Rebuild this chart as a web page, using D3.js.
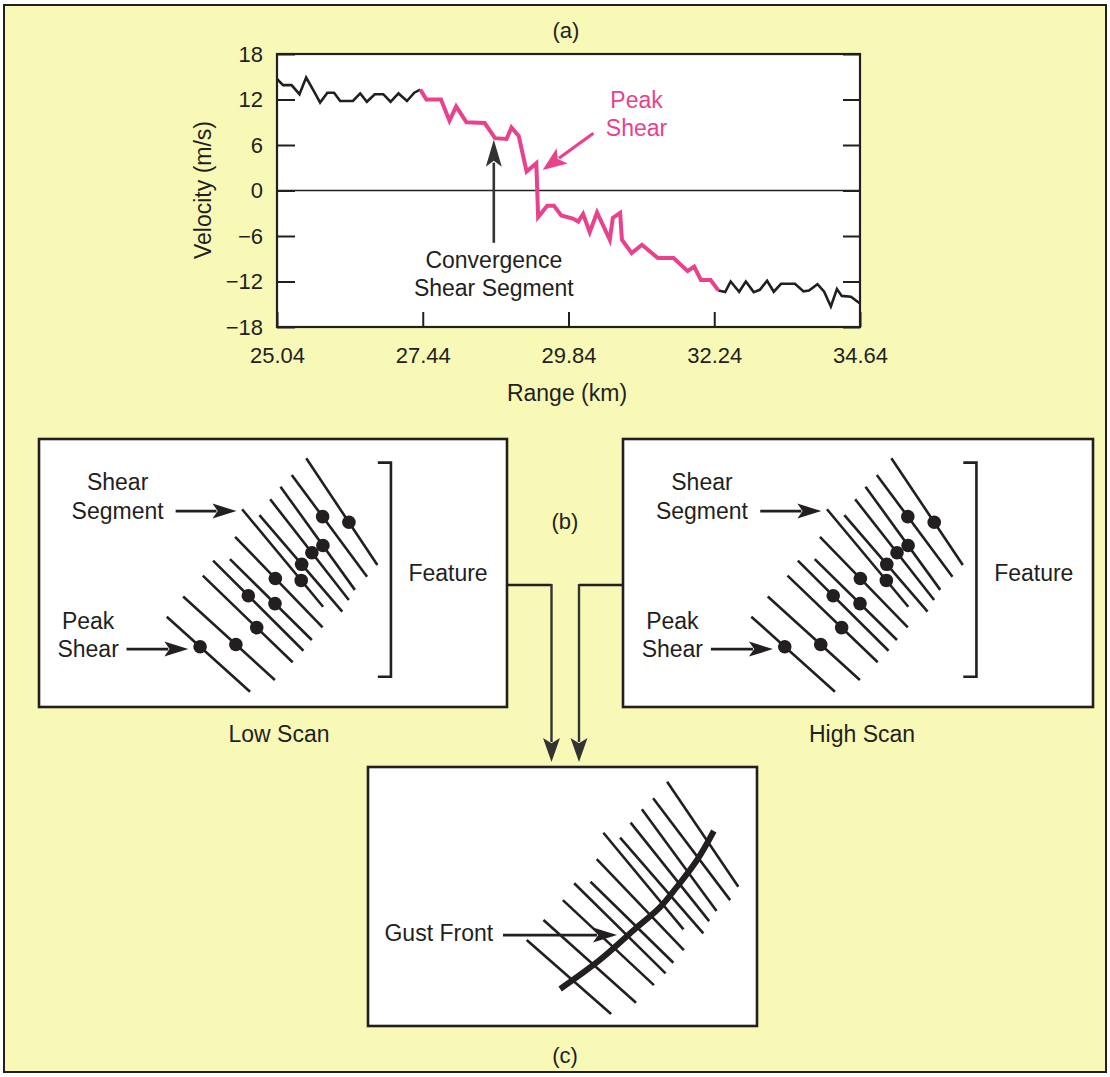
<!DOCTYPE html>
<html><head><meta charset="utf-8">
<script src="https://cdn.jsdelivr.net/npm/d3@7"></script>
<style>
html,body{margin:0;padding:0;background:#fff;}
svg text{font-family:"Liberation Sans", Arial, Helvetica, sans-serif; fill:#231f20;}
</style></head><body>
<svg id="chart" width="1110" height="1077"></svg>
<script>
// ---------- DATA ----------
// Panel (a): radial velocity profile
const ranges = [25.04, 25.14, 25.28, 25.41, 25.52, 25.64, 25.75, 25.87, 25.98, 26.08, 26.29, 26.41, 26.52, 26.65, 26.79, 26.91, 27.04, 27.18, 27.30, 27.40,
  27.50, 27.74, 27.88, 27.99, 28.16, 28.46, 28.63, 28.82, 28.90, 29.02, 29.15, 29.31, 29.34, 29.49, 29.60, 29.72, 29.91, 30.00, 30.08, 30.19,
  30.31, 30.52, 30.57, 30.69, 30.72, 30.88, 31.05, 31.31, 31.57, 31.80, 31.91, 32.02, 32.18, 32.31, 32.42, 32.51, 32.65, 32.76, 32.89, 32.99,
  33.11, 33.22, 33.34, 33.57, 33.71, 33.80, 33.94, 34.05, 34.16, 34.26, 34.34, 34.49, 34.64];
const velocities = [14.7, 13.9, 13.9, 12.7, 14.9, 13.2, 11.6, 12.9, 12.9, 11.8, 11.8, 12.8, 11.7, 12.7, 12.7, 11.7, 12.8, 11.8, 12.9, 13.3,
  12.0, 12.0, 9.2, 11.1, 9.0, 8.9, 6.9, 6.8, 8.3, 7.2, 2.5, 3.6, -3.5, -2.0, -2.0, -3.3, -3.7, -4.1, -3.1, -5.5,
  -2.9, -6.5, -3.6, -2.95, -6.5, -8.25, -7.15, -8.9, -8.9, -10.6, -10.05, -11.8, -11.8, -13.2, -13.4, -12.0, -13.35, -12.0, -13.4, -13.1,
  -11.9, -13.35, -12.3, -12.3, -13.3, -13.2, -12.35, -13.35, -15.3, -13.0, -13.9, -14.0, -14.9];
const shearStart = 27.40, shearEnd = 32.31;   // convergence shear segment (km)
const xTicks = [25.04, 27.44, 29.84, 32.24, 34.64];
const xTickLabels = ["25.04", "27.44", "29.84", "32.24", "34.64"];
const yTicks = [-18, -12, -6, 0, 6, 12, 18];
const yTickLabels = ["\u221218", "\u221212", "\u22126", "0", "6", "12", "18"];

// Panel (b): radials of a shear segment (diagram units 0-100), one peak-shear dot per radial
const scanRadials = [[27.3,66.3,45.1,94.3],[30.8,58.8,50.4,89.9],[35.0,51.0,54.2,83.3],[37.2,45.4,56.5,79.0],
  [40.8,44.8,58.3,75.0],[41.9,36.5,60.6,70.3],[43.4,26.2,60.7,62.6],[47.1,28.4,64.8,64.4],
  [49.4,22.5,66.2,60.1],[51.6,17.8,67.5,56.3],[54.0,13.4,70.1,51.4],[57.1,7.2,72.3,47.0]];
const peakShearT = [0.40, 0.575, 0.60, 0.39, 0.55, 0.46, 0.73, 0.51, 0.53, 0.57, 0.41, 0.60];

// Panel (c): radials and gust-front curve (diagram units 0-100)
const gustRadials = [[40.8,66.8,62.5,95.4],[45.1,59.1,68.9,91.0],[50.1,51.4,73.5,84.2],[53.0,44.9,76.5,79.7],
  [57.2,44.3,78.5,75.6],[58.8,35.6,81.2,70.7],[60.5,25.4,81.1,62.7],[64.8,27.3,86.2,64.2],
  [67.5,21.5,87.7,59.5],[70.4,16.3,89.6,55.6],[73.3,12.1,93.1,51.4],[76.9,5.7,95.2,46.2]];
const gustFront = [[49.4,85.7],[59.6,74.5],[69.2,61.8],[75.1,54.1],[79.4,46.3],[84.6,35.9],[88.9,24.7]];

// ---------- DRAW ----------
const ink = "#231f20", pink = "#e8428c", bg = "#f9f9b7";
const svg = d3.select("#chart");
svg.append("rect").attr("x",4).attr("y",5).attr("width",1102).attr("height",1067)
  .attr("fill",bg).attr("stroke",ink).attr("stroke-width",2);

function arrow(g, x1, y1, x2, y2, color, width, len, half) {
  const dx = x2-x1, dy = y2-y1, L = Math.hypot(dx,dy), ux = dx/L, uy = dy/L;
  const bx = x2-ux*len, by = y2-uy*len;
  g.append("line").attr("x1",x1).attr("y1",y1).attr("x2",bx+ux*4).attr("y2",by+uy*4)
    .attr("stroke",color).attr("stroke-width",width);
  const nx = bx+ux*len*0.22, ny = by+uy*len*0.22;
  g.append("path").attr("d",`M${x2},${y2}L${bx-uy*half},${by+ux*half}L${nx},${ny}L${bx+uy*half},${by-ux*half}Z`)
    .attr("fill",color);
}
function txt(g, x, y, s, size, opts={}) {
  const t = g.append("text").attr("x",x).attr("y",y).attr("dy","0.35em")
    .attr("text-anchor",opts.anchor||"middle").style("font-size",size+"px").text(s);
  if (opts.fill) t.style("fill",opts.fill);
  if (opts.transform) t.attr("transform",opts.transform);
  return t;
}

// ----- Panel (a)
const ga = svg.append("g");
const x = d3.scaleLinear().domain([25.04, 34.64]).range([277, 860]);
const y = d3.scaleLinear().domain([-18, 18]).range([327, 54]);
txt(ga, 566, 30, "(a)", 22);
ga.append("rect").attr("x",x.range()[0]).attr("y",y.range()[1])
  .attr("width",x.range()[1]-x.range()[0]).attr("height",y.range()[0]-y.range()[1]).attr("fill","#fff");
ga.append("line").attr("x1",x(25.04)).attr("x2",x(34.64)).attr("y1",y(0)).attr("y2",y(0))
  .attr("stroke",ink).attr("stroke-width",1.6);

const pts = ranges.map((r,i)=>({r, v: velocities[i]}));
const line = d3.line().x(d=>x(d.r)).y(d=>y(d.v));
const seg1 = pts.filter(p=>p.r<=shearStart), seg2 = pts.filter(p=>p.r>=shearStart && p.r<=shearEnd), seg3 = pts.filter(p=>p.r>=shearEnd);
[seg1, seg3].forEach(s=>ga.append("path").attr("d",line(s)).attr("fill","none")
  .attr("stroke",ink).attr("stroke-width",2.6).attr("stroke-linejoin","miter"));
ga.append("path").attr("d",line(seg2)).attr("fill","none").attr("stroke",pink)
  .attr("stroke-width",4).attr("stroke-linejoin","miter");

function styleAxis(g){ g.select(".domain").remove(); g.selectAll(".tick line").attr("stroke",ink).attr("stroke-width",2);
  g.selectAll(".tick text").style("font-size","22px").style("font-family",'"Liberation Sans", Arial, sans-serif').attr("fill",ink); }
ga.append("g").attr("transform",`translate(${x.range()[0]},0)`)
  .call(d3.axisLeft(y).tickValues(yTicks).tickFormat((d,i)=>yTickLabels[i]).tickSize(-18).tickPadding(14)).call(styleAxis);
ga.append("g").attr("transform",`translate(${x.range()[1]},0)`)
  .call(d3.axisRight(y).tickValues(yTicks).tickFormat("").tickSize(-17)).call(styleAxis);
ga.append("g").attr("transform",`translate(0,${y.range()[0]})`)
  .call(d3.axisBottom(x).tickValues(xTicks).tickFormat((d,i)=>xTickLabels[i]).tickSize(-15).tickPadding(20)).call(styleAxis);
ga.append("rect").attr("x",x.range()[0]).attr("y",y.range()[1])
  .attr("width",x.range()[1]-x.range()[0]).attr("height",y.range()[0]-y.range()[1])
  .attr("fill","none").attr("stroke",ink).attr("stroke-width",2.2);
txt(ga, 567, 393, "Range (km)", 23);
txt(ga, 0, 0, "Velocity (m/s)", 23, {transform:"translate(203,190) rotate(-90)"});

// annotations (a)
arrow(ga, x(28.61), y(-6.9), x(28.61), y(6.7), "#333", 2.6, 27, 8);
txt(ga, x(28.61), y(-9.2), "Convergence", 23);
txt(ga, x(28.61), y(-12.9), "Shear Segment", 23);
arrow(ga, x(30.25), y(7.55), x(29.415), y(2.7), pink, 3.2, 24, 9.5);
txt(ga, x(30.96), y(11.9), "Peak", 23, {fill:pink});
txt(ga, x(30.96), y(8.2), "Shear", 23, {fill:pink});

// ----- Panel (b)
function drawScan(bx, by, bw, bh, label, labelX) {
  const g = svg.append("g");
  const sx = d3.scaleLinear().domain([0,100]).range([bx, bx+bw]);
  const sy = d3.scaleLinear().domain([0,100]).range([by, by+bh]);
  g.append("rect").attr("x",bx).attr("y",by).attr("width",bw).attr("height",bh)
    .attr("fill","#fff").attr("stroke",ink).attr("stroke-width",2.6);
  g.selectAll("line.rad").data(scanRadials).join("line").attr("class","rad")
    .attr("x1",d=>sx(d[0])).attr("y1",d=>sy(d[1])).attr("x2",d=>sx(d[2])).attr("y2",d=>sy(d[3]))
    .attr("stroke",ink).attr("stroke-width",2.6);
  g.selectAll("circle").data(scanRadials).join("circle")
    .attr("cx",(d,i)=>sx(d[0]+(d[2]-d[0])*peakShearT[i]))
    .attr("cy",(d,i)=>sy(d[1]+(d[3]-d[1])*peakShearT[i]))
    .attr("r",6.8).attr("fill",ink);
  txt(g, sx(16.8), sy(15.9), "Shear", 23);
  txt(g, sx(16.8), sy(26.9), "Segment", 23);
  arrow(g, sx(29.2), sy(26.9), sx(42.2), sy(26.9), ink, 2.6, 24, 7.5);
  txt(g, sx(10.5), sy(67.8), "Peak", 23);
  txt(g, sx(10.5), sy(78.5), "Shear", 23);
  arrow(g, sx(18.7), sy(78.4), sx(31.9), sy(78.4), ink, 2.6, 24, 7.5);
  g.append("path").attr("d",`M${sx(72.4)},${sy(8.8)}H${sx(75.2)}V${sy(88.7)}H${sx(72.4)}`)
    .attr("fill","none").attr("stroke",ink).attr("stroke-width",2.6);
  txt(g, sx(87.4), sy(49.9), "Feature", 23);
  txt(svg, labelX, by+bh+27, label, 23);
}
drawScan(39, 439, 468, 268, "Low Scan", 279);
drawScan(623, 439, 470, 268, "High Scan", 862);
txt(svg, 565, 521, "(b)", 22);

// connectors
const gc = svg.append("g");
gc.append("path").attr("d","M507,585H551.5").attr("stroke",ink).attr("stroke-width",2.4).attr("fill","none");
arrow(gc, 551.5, 584, 551.5, 762, "#333", 2.4, 24, 8.5);
gc.append("path").attr("d","M623,585H579").attr("stroke",ink).attr("stroke-width",2.4).attr("fill","none");
arrow(gc, 579, 584, 579, 762, "#333", 2.4, 24, 8.5);

// ----- Panel (c)
(function(){
  const bx=368, by=767, bw=389, bh=259;
  const g = svg.append("g");
  const sx = d3.scaleLinear().domain([0,100]).range([bx, bx+bw]);
  const sy = d3.scaleLinear().domain([0,100]).range([by, by+bh]);
  g.append("rect").attr("x",bx).attr("y",by).attr("width",bw).attr("height",bh)
    .attr("fill","#fff").attr("stroke",ink).attr("stroke-width",2.6);
  g.selectAll("line.rad").data(gustRadials).join("line").attr("class","rad")
    .attr("x1",d=>sx(d[0])).attr("y1",d=>sy(d[1])).attr("x2",d=>sx(d[2])).attr("y2",d=>sy(d[3]))
    .attr("stroke",ink).attr("stroke-width",2.6);
  g.append("path").attr("d", d3.line().x(d=>sx(d[0])).y(d=>sy(d[1])).curve(d3.curveCatmullRom)(gustFront))
    .attr("fill","none").attr("stroke",ink).attr("stroke-width",6);
  txt(g, sx(18.2), sy(64.1), "Gust Front", 23);
  arrow(g, sx(34.7), sy(64.9), sx(64.0), sy(64.9), ink, 2.6, 24, 7.5);
  txt(svg, 565, by+bh+29, "(c)", 22);
})();
</script>
</body></html>
